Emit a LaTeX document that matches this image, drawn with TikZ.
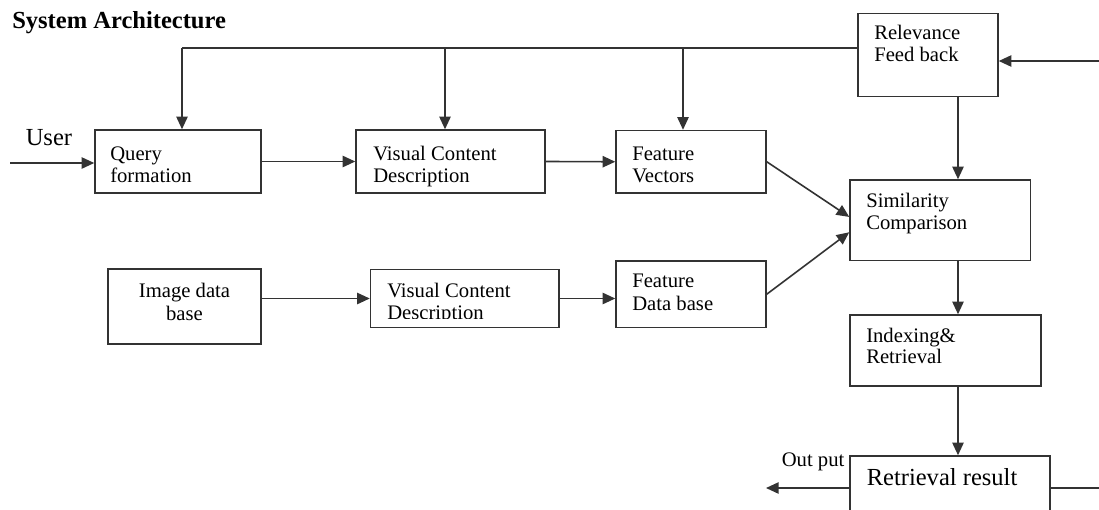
\documentclass[tikz,border=0pt]{standalone}
\usepackage{fontspec}
\setmainfont{Liberation Serif}
\usetikzlibrary{arrows.meta}

% box from corner (x1,y1) to corner (x2,y2), in pixel-like units
\newcommand\blockbox[5]{%
  \node[blk, minimum width={(#4-#2)*0.75pt}, minimum height={(#5-#3)*0.75pt}]
    (#1) at ({(#2+#4)/2},{(#3+#5)/2}) {};}
% one line of text, placed by its baseline
\newcommand\txtline[4]{\node[txt, anchor=base west] (#1) at (#2,#3) {#4};}

\begin{document}
\begin{tikzpicture}[x=0.75pt, y=-0.75pt,
  blk/.style={draw=black!80, line width=1.1pt, inner sep=0pt, fill=none},
  txt/.style={inner sep=0pt, font=\fontsize{15.5}{18}\selectfont},
  bigtxt/.style={inner sep=0pt, font=\fontsize{18.4}{22}\selectfont},
  conn/.style={draw=black!80, line width=1.2pt},
  arr/.style={conn, -{Triangle[length=9.5pt, width=8.5pt]}}]

\useasboundingbox (0,0) rectangle (1099,510);
\clip (0,0) rectangle (1099,510);

% title
\node[anchor=base west, inner sep=0pt, font=\fontsize{18.4}{22}\selectfont\bfseries]
  (title) at (12,29) {System Architecture};

% blocks
\blockbox{q}{95}{130}{261}{193}
\blockbox{v1}{356}{130}{545}{193}
\blockbox{fv}{616}{130.5}{766}{193}
\blockbox{rf}{858}{13.5}{998}{96.5}
\blockbox{sim}{850}{180}{1030.5}{260.5}
\blockbox{idb}{108}{269}{261}{344}
\blockbox{v2}{370.5}{269.5}{559}{327.5}
\blockbox{fdb}{616}{261}{766}{327.5}
\blockbox{idx}{850}{315}{1041}{386}
\blockbox{rr}{850}{456}{1050}{530}

% block texts
\txtline{q1}{110}{160}{Query}
\txtline{q2}{110}{182}{formation}
\txtline{v1a}{373}{160}{Visual Content}
\txtline{v1b}{373}{182}{Description}
\txtline{fv1}{632}{160}{Feature}
\txtline{fv2}{632}{182}{Vectors}
\txtline{rf1}{874}{40}{Relevance}
\txtline{rf2}{874}{62}{Feed back}
\txtline{sim1}{866}{207}{Similarity}
\txtline{sim2}{866}{229}{Comparison}
\node[txt, anchor=base] (idb1) at (184.5,297) {Image data};
\node[txt, anchor=base] (idb2) at (184.5,320) {base};
\txtline{v2a}{387}{297.5}{Visual Content}
\begin{scope}
  \clip (370.5,269.5) rectangle (559,318);
  \txtline{v2b}{387}{319.5}{Description}
\end{scope}
\txtline{fdb1}{632}{287.5}{Feature}
\txtline{fdb2}{632}{310}{Data base}
\txtline{idx1}{866}{342}{Indexing\&}
\txtline{idx2}{866}{363}{Retrieval}
\node[bigtxt, anchor=base west] (rr1) at (866.5,485) {Retrieval result};

% free labels
\node[bigtxt, anchor=base west] (user) at (25.5,145) {User};
\node[txt, anchor=base west] (outp) at (781.5,466) {Out put};

% connector end points
\coordinate (uin) at (10,163);
\coordinate (fb) at (0,48);
\coordinate (j1) at (182,48);
\coordinate (j2) at (445,48);
\coordinate (j3) at (683,48);
\coordinate (rin) at (1099,61);
\coordinate (col) at (958,0);
\coordinate (outend) at (766,488);
\coordinate (rout) at (1099,488);

% main query path
\draw[arr] (uin) -- (uin -| q.west);
\draw[arr] (q.east) -- (v1.west);
\draw[arr] (v1.east) -- (fv.west);
\draw[arr] (fv.east) -- ([yshift=2.5pt]sim.west);

% database path
\draw[arr] (idb.east |- v2.west) -- (v2.west);
\draw[arr] (v2.east) -- (v2.east -| fdb.west);
\draw[arr] (fdb.east) -- ([yshift=-9pt]sim.west);

% relevance feedback
\draw[conn] (rf.west |- fb) -- (j1);
\draw[arr] (j1) -- (j1 |- q.north);
\draw[arr] (j2) -- (j2 |- v1.north);
\draw[arr] (j3) -- (j3 |- fv.north);
\draw[arr] (rin) -- (rin -| rf.east);

% right column
\draw[arr] (rf.south -| col) -- (sim.north -| col);
\draw[arr] (sim.south -| col) -- (idx.north -| col);
\draw[arr] (idx.south -| col) -- (rr.north -| col);

% output
\draw[arr] (rr.west |- outend) -- (outend);
\draw[conn] (rr.east |- rout) -- (rout);

\end{tikzpicture}
\end{document}
